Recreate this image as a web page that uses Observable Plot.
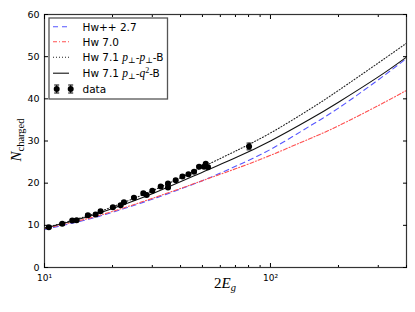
<!DOCTYPE html>
<html>
<head>
<meta charset="utf-8">
<script src="https://cdn.jsdelivr.net/npm/d3@7"></script>
<script src="https://cdn.jsdelivr.net/npm/@observablehq/plot@0.6"></script>
<style>
  html, body { margin: 0; padding: 0; background: #fff; }
  #chart { width: 415px; height: 312px; }
</style>
</head>
<body>
<div id="chart"></div>
<script>
// Curves
const curveX = [10, 15, 20, 30, 50, 70, 100, 150, 200, 300, 400];
const hwpp27 = [9.0, 11.2, 13.1, 16.2, 20.6, 24.0, 28.0, 33.6, 37.8, 44.5, 49.6];
const hw70   = [9.2, 11.4, 13.3, 16.4, 20.6, 23.4, 26.6, 30.6, 33.6, 38.4, 42.0];
const hw71pp = [9.4, 12.0, 14.4, 18.2, 23.8, 27.6, 31.9, 37.6, 42.0, 48.5, 53.2];
const hw71pq = [9.3, 11.8, 14.0, 17.5, 22.6, 26.0, 30.0, 35.2, 39.2, 45.2, 49.9];

// Data points
const dataX = [10.45, 11.98, 13.27, 13.87, 15.56, 16.83, 17.71, 20.07, 21.72, 22.47, 24.88,
               27.38, 28.32, 30.01, 32.68, 35.2, 35.2, 38.07, 40.78, 43.36, 45.9, 48.3, 50.8, 51.7, 52.9, 80.4];
const dataY = [9.56, 10.36, 11.14, 11.22, 12.41, 12.57, 13.35, 14.3, 14.77, 15.48, 16.53,
               17.6, 17.2, 18.2, 19.2, 19.9, 19.0, 20.7, 21.6, 22.1, 22.7, 23.9, 23.9, 24.6, 23.8, 28.7];
const dataErr = [0.3, 0.3, 0.3, 0.3, 0.3, 0.3, 0.3, 0.3, 0.3, 0.3, 0.3,
                 0.3, 0.3, 0.3, 0.3, 0.3, 0.3, 0.3, 0.3, 0.3, 0.3, 0.3, 0.3, 0.3, 0.3, 0.8];

const yTicks = [0, 10, 20, 30, 40, 50, 60];
const xMajor = [10, 100];
const xMajorLabels = ["10¹", "10²"];
const xMinor = [20, 30, 40, 50, 60, 70, 80, 90, 200, 300, 400];

const series = [
  {name: "Hw++ 2.7", ys: hwpp27, stroke: "#5555ff", dash: "5,4"},
  {name: "Hw 7.0", ys: hw70, stroke: "#ff5050", dash: "4,2,1,2"},
  {name: "Hw 7.1 pp", ys: hw71pp, stroke: "#222", dash: "1,2"},
  {name: "Hw 7.1 pq", ys: hw71pq, stroke: "#111", dash: null}
];

const lineTable = series.flatMap(s => curveX.map((x, i) => ({x, y: s.ys[i], name: s.name})));
const pts = dataX.map((x, i) => ({x, y: dataY[i], e: dataErr[i]}));

const capSymbol = {
  draw(ctx, size) {
    const w = 2.5;
    ctx.moveTo(-w, 0); ctx.lineTo(w, 0);
  }
};

const lineMarks = series.map(s => Plot.line(lineTable.filter(d => d.name === s.name), {
  x: "x", y: "y", stroke: s.stroke, strokeWidth: 1.1, strokeDasharray: s.dash, curve: "natural"
}));

const plot = Plot.plot({
  width: 415, height: 312,
  marginLeft: 44, marginRight: 9, marginTop: 14, marginBottom: 45,
  x: {type: "log", domain: [10, 400]},
  y: {domain: [0, 60]},
  style: {fontFamily: "DejaVu Sans", fontSize: "9.5px", color: "#000", background: "#fff"},
  marks: [
    ...lineMarks,
    Plot.ruleX(pts, {x: "x", y1: d => d.y - d.e, y2: d => d.y + d.e, stroke: "#000", strokeWidth: 1}),
    Plot.dot(pts, {x: "x", y: d => d.y - d.e, symbol: capSymbol, stroke: "#000", strokeWidth: 1}),
    Plot.dot(pts, {x: "x", y: d => d.y + d.e, symbol: capSymbol, stroke: "#000", strokeWidth: 1}),
    Plot.dot(pts, {x: "x", y: "y", r: 3, fill: "#000", stroke: "none"}),
    Plot.frame({stroke: "#333", strokeWidth: 1.2}),
    Plot.axisY({ticks: yTicks, anchor: "left", tickSize: -4, fill: "none", label: null}),
    Plot.axisY({ticks: yTicks, anchor: "right", tickSize: -4, fill: "none", label: null}),
    Plot.axisY({ticks: yTicks, anchor: "left", tickSize: 0, tickPadding: 5, label: null, fontSize: 9.5}),
    Plot.axisX({ticks: xMajor, anchor: "bottom", tickSize: -4, fill: "none", label: null}),
    Plot.axisX({ticks: xMajor, anchor: "top", tickSize: -4, fill: "none", label: null}),
    Plot.axisX({ticks: xMinor, anchor: "bottom", tickSize: -2, fill: "none", label: null}),
    Plot.axisX({ticks: xMinor, anchor: "top", tickSize: -2, fill: "none", label: null}),
    Plot.axisX({ticks: xMajor, anchor: "bottom", tickSize: 0, tickPadding: 7, label: null,
                tickFormat: d => xMajorLabels[xMajor.indexOf(d)], fontSize: 9})
  ]
});

document.getElementById("chart").appendChild(plot);

// Axis labels & legend
const svg = d3.select(plot);
const serif = "'Liberation Serif', 'DejaVu Serif', serif";

const yl = svg.append("text")
  .attr("transform", "translate(21,140) rotate(-90)")
  .attr("text-anchor", "middle")
  .attr("font-family", serif)
  .attr("fill", "#000");
yl.append("tspan").attr("font-style", "italic").attr("font-size", 15).text("N");
yl.append("tspan").attr("font-size", 10.5).attr("dy", 3).text("charged");

const xl = svg.append("text")
  .attr("x", 225).attr("y", 288)
  .attr("text-anchor", "middle")
  .attr("font-family", serif)
  .attr("fill", "#000");
xl.append("tspan").attr("font-size", 15).text("2");
xl.append("tspan").attr("font-size", 15).attr("font-style", "italic").text("E");
xl.append("tspan").attr("font-size", 10.5).attr("font-style", "italic").attr("dy", 3).text("g");

const lg = svg.append("g").attr("text-anchor", "start");
lg.append("rect").attr("x", 49).attr("y", 18).attr("width", 118.5).attr("height", 81)
  .attr("fill", "#fff").attr("stroke", "#555").attr("stroke-width", 1.3);

const rowsY = [26.7, 41.8, 57.3, 73.2];
series.forEach((s, i) => {
  lg.append("line").attr("x1", 53).attr("x2", 69).attr("y1", rowsY[i]).attr("y2", rowsY[i])
    .attr("stroke", s.stroke).attr("stroke-width", 1.1).attr("stroke-dasharray", s.dash);
});
function addText(y, parts) {
  const t = lg.append("text").attr("x", 82.5).attr("y", y + 3.8)
    .attr("text-anchor", "start")
    .attr("font-family", "DejaVu Sans").attr("font-size", 10.5).attr("fill", "#000");
  parts.forEach(p => {
    const ts = t.append("tspan").text(p.t);
    if (p.math) ts.attr("font-family", serif).attr("font-style", "italic").attr("font-size", 11.5);
    if (p.sub) ts.attr("font-family", serif).attr("font-size", 8).attr("dy", p.sub);
    if (p.sup) ts.attr("font-family", serif).attr("font-size", 8).attr("dy", p.sup);
    if (p.dy) ts.attr("dy", p.dy);
  });
}
addText(rowsY[0], [{t: "Hw++ 2.7"}]);
addText(rowsY[1], [{t: "Hw 7.0"}]);
addText(rowsY[2], [{t: "Hw 7.1 "}, {t: "p", math: true}, {t: "⊥", sub: 2}, {t: "-", dy: -2},
                   {t: "p", math: true}, {t: "⊥", sub: 2}, {t: "-B", dy: -2}]);
addText(rowsY[3], [{t: "Hw 7.1 "}, {t: "p", math: true}, {t: "⊥", sub: 2}, {t: "-", dy: -2},
                   {t: "q", math: true}, {t: "2", sup: -4}, {t: "-B", dy: 4}]);
addText(89, [{t: "data"}]);
[56.7, 70.7].forEach(cx => {
  lg.append("line").attr("x1", cx).attr("x2", cx).attr("y1", 85).attr("y2", 93).attr("stroke", "#000");
  lg.append("line").attr("x1", cx - 2.5).attr("x2", cx + 2.5).attr("y1", 85).attr("y2", 85).attr("stroke", "#000");
  lg.append("line").attr("x1", cx - 2.5).attr("x2", cx + 2.5).attr("y1", 93).attr("y2", 93).attr("stroke", "#000");
  lg.append("circle").attr("cx", cx).attr("cy", 89).attr("r", 3).attr("fill", "#000");
});
</script>
</body>
</html>
